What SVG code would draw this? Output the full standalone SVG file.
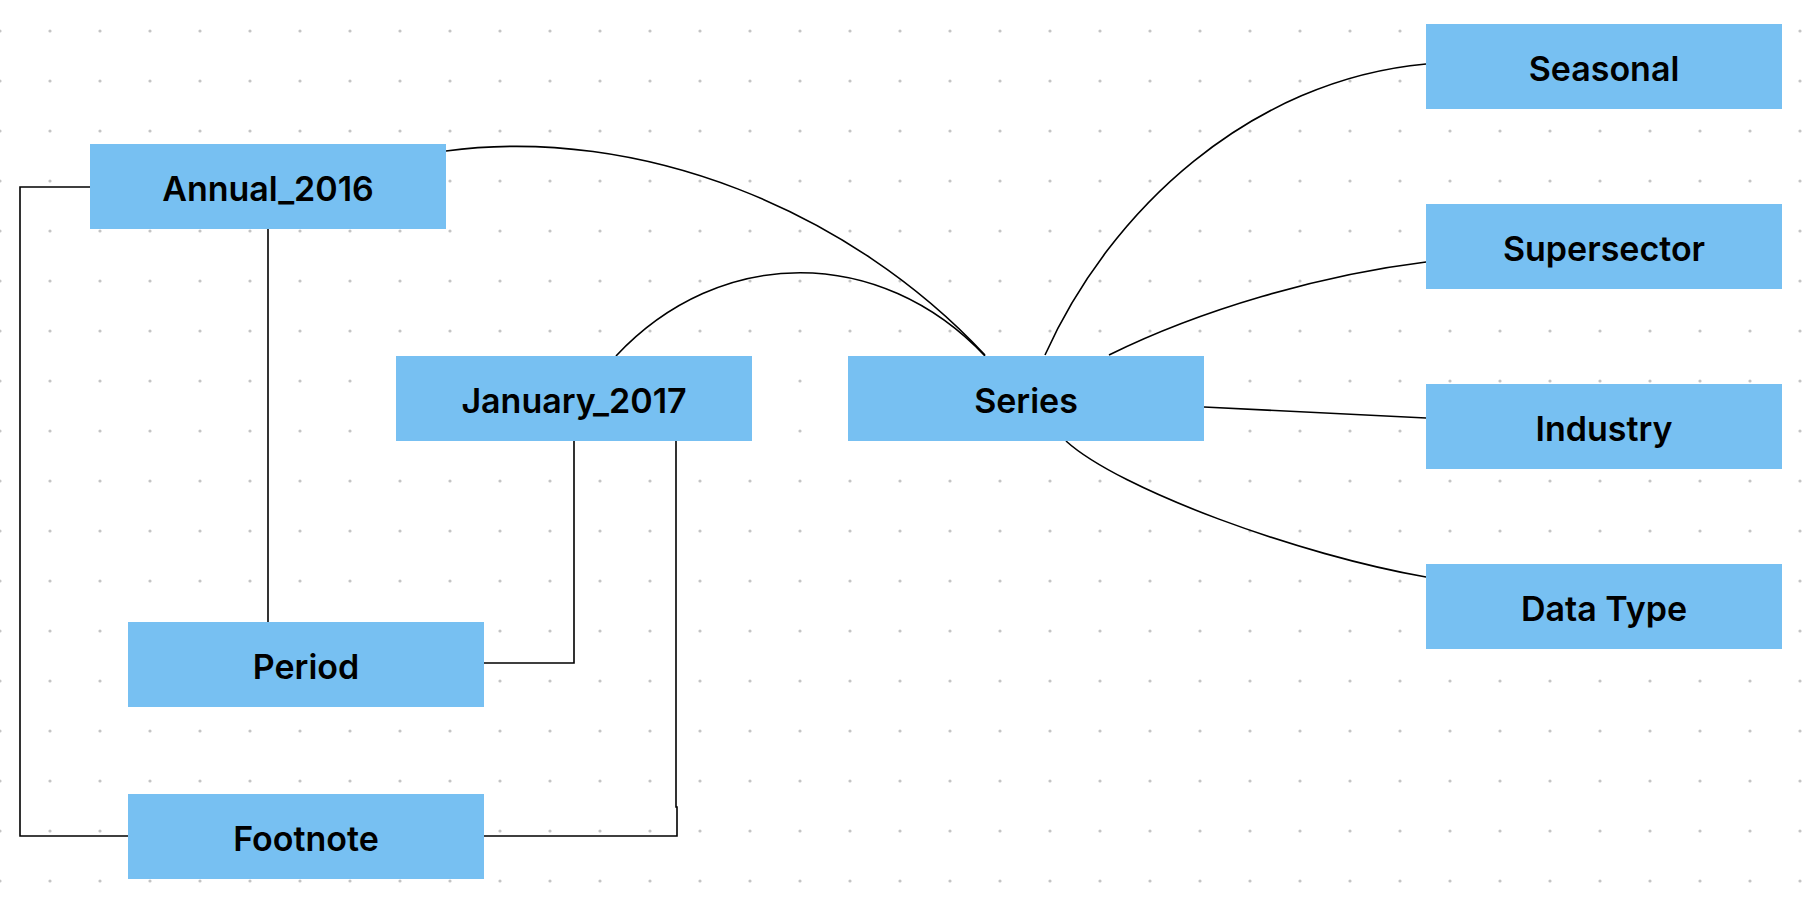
<svg xmlns="http://www.w3.org/2000/svg" width="1806" height="900" viewBox="0 0 1806 900">
  <defs>
    <pattern id="dots" x="0" y="31" width="50" height="50" patternUnits="userSpaceOnUse">
      <circle cx="0" cy="0" r="1.6" fill="#c4c4c4"/>
      <circle cx="50" cy="0" r="1.6" fill="#c4c4c4"/>
      <circle cx="0" cy="50" r="1.6" fill="#c4c4c4"/>
      <circle cx="50" cy="50" r="1.6" fill="#c4c4c4"/>
    </pattern>
    <style>
      .box { fill: #77c0f2; }
      .lbl { font-family: Inter, "Noto Sans", "Liberation Sans", sans-serif; font-weight: 600; font-size: 34px; fill: #000; text-anchor: middle; }
      .edge { fill: none; stroke: #000; stroke-width: 1.6; }
    </style>
  </defs>
  <rect width="1806" height="900" fill="#ffffff"/>
  <rect width="1806" height="900" fill="url(#dots)"/>

  <g id="connectors">
    <path class="edge" d="M446,151 C640,125 850,210 985,355"/>
    <path class="edge" d="M616,356 C720,245 880,245 985,356"/>
    <path class="edge" d="M1045,355 C1110,210 1250,80 1426,64"/>
    <path class="edge" d="M1109,355 C1200,310 1320,275 1426,262"/>
    <path class="edge" d="M1204,407 L1426,418"/>
    <path class="edge" d="M1066,441 C1120,490 1300,555 1426,577"/>
    <path class="edge" d="M90,187 H20 V836 H128"/>
    <path class="edge" d="M268,229 V625"/>
    <path class="edge" d="M484,663 H574 V441"/>
    <path class="edge" d="M484,836 H677 V807 H676 V441"/>
  </g>

  <g id="node-annual-2016">
    <rect class="box" x="90" y="144" width="356" height="85"/>
    <text class="lbl" x="268" y="201">Annual_2016</text>
  </g>
  <g id="node-january-2017">
    <rect class="box" x="396" y="356" width="356" height="85"/>
    <text class="lbl" x="574" y="413">January_2017</text>
  </g>
  <g id="node-series">
    <rect class="box" x="848" y="356" width="356" height="85"/>
    <text class="lbl" x="1026" y="413">Series</text>
  </g>
  <g id="node-period">
    <rect class="box" x="128" y="622" width="356" height="85"/>
    <text class="lbl" x="306" y="679">Period</text>
  </g>
  <g id="node-footnote">
    <rect class="box" x="128" y="794" width="356" height="85"/>
    <text class="lbl" x="306" y="851">Footnote</text>
  </g>
  <g id="node-seasonal">
    <rect class="box" x="1426" y="24" width="356" height="85"/>
    <text class="lbl" x="1604" y="81">Seasonal</text>
  </g>
  <g id="node-supersector">
    <rect class="box" x="1426" y="204" width="356" height="85"/>
    <text class="lbl" x="1604" y="261">Supersector</text>
  </g>
  <g id="node-industry">
    <rect class="box" x="1426" y="384" width="356" height="85"/>
    <text class="lbl" x="1604" y="441">Industry</text>
  </g>
  <g id="node-data-type">
    <rect class="box" x="1426" y="564" width="356" height="85"/>
    <text class="lbl" x="1604" y="621">Data Type</text>
  </g>
</svg>
